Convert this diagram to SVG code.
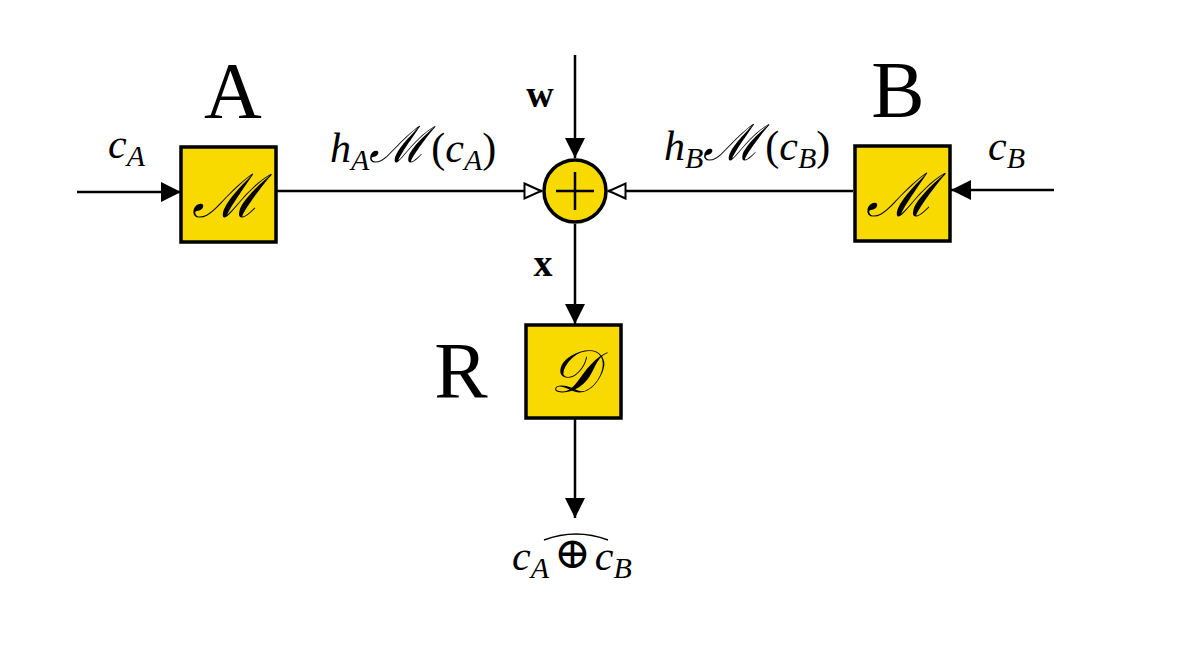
<svg xmlns="http://www.w3.org/2000/svg" width="1200" height="667" viewBox="0 0 1200 667">
<defs>
<style>
.box{fill:#F8DA00;stroke:#000;stroke-width:3.5}
.ln{stroke:#000;stroke-width:2.5;fill:none}
.t{font-family:"Liberation Serif",serif;fill:#000}
.big{font-size:80px}
.it{font-style:italic;font-size:42px}
.sub{font-style:italic;font-size:30px}
.bold{font-weight:bold;font-size:38px}
.scr{font-style:italic;font-size:60px}
.lm{font-size:50px}
.op{font-family:"DejaVu Serif",serif;font-style:normal;font-weight:normal;font-size:44px}
</style>
<marker id="fill" viewBox="0 0 20 20" refX="20" refY="10" markerWidth="20" markerHeight="20" markerUnits="userSpaceOnUse" orient="auto">
<path d="M0,0 L20,10 L0,20 Z" fill="#000"/>
</marker>
<marker id="hollow" viewBox="0 0 20 20" refX="19" refY="10" markerWidth="20" markerHeight="20" markerUnits="userSpaceOnUse" orient="auto">
<path d="M1.5,2.5 L18,10 L1.5,17.5 Z" fill="#fff" stroke="#000" stroke-width="2"/>
</marker>
</defs>
<rect width="1200" height="667" fill="#fff"/>
<g id="connectors">
<line class="ln" x1="77" y1="192" x2="181" y2="192" marker-end="url(#fill)"/>
<line class="ln" x1="277" y1="191" x2="542" y2="191" marker-end="url(#hollow)"/>
<line class="ln" x1="1054" y1="190" x2="951" y2="190" marker-end="url(#fill)"/>
<line class="ln" x1="853" y1="191" x2="608" y2="191" marker-end="url(#hollow)"/>
<line class="ln" x1="575" y1="55" x2="575" y2="158" marker-end="url(#fill)"/>
<line class="ln" x1="575" y1="224" x2="575" y2="324" marker-end="url(#fill)"/>
<line class="ln" x1="575" y1="419" x2="575" y2="518" marker-end="url(#fill)"/>
</g>
<g id="nodeA">
<rect class="box" x="181" y="147" width="95" height="95"/>
<text class="t scr" x="226" y="217" text-anchor="middle">ℳ</text>
<text class="t big" x="233" y="118" text-anchor="middle">A</text>
</g>
<g id="nodeB">
<rect class="box" x="855" y="146" width="95" height="95"/>
<text class="t scr" x="900" y="216" text-anchor="middle">ℳ</text>
<text class="t big" x="898" y="117" text-anchor="middle">B</text>
</g>
<g id="sum">
<circle cx="575" cy="191" r="31" fill="#F8DA00" stroke="#000" stroke-width="3.5"/>
<line class="ln" x1="556" y1="191" x2="594" y2="191"/>
<line class="ln" x1="575" y1="172" x2="575" y2="210"/>
</g>
<g id="nodeR">
<rect class="box" x="526" y="325" width="95" height="93"/>
<text class="t scr" x="573.5" y="392" text-anchor="middle">𝒟</text>
<text class="t big" x="461" y="398" text-anchor="middle">R</text>
</g>
<g id="labels">
<text class="t it" x="108" y="158">c<tspan class="sub" dy="8">A</tspan></text>
<text class="t it" x="988" y="160">c<tspan class="sub" dy="8">B</tspan></text>
<text class="t bold" x="540" y="107" text-anchor="middle">w</text>
<text class="t bold" x="543" y="276" text-anchor="middle">x</text>
<text class="t it" x="330" y="162">h<tspan class="sub" dy="8">A</tspan><tspan class="lm" dy="-8">ℳ</tspan><tspan font-style="normal" dx="4">(</tspan>c<tspan class="sub" dy="8">A</tspan><tspan font-style="normal" dy="-8">)</tspan></text>
<text class="t it" x="664" y="160">h<tspan class="sub" dy="8">B</tspan><tspan class="lm" dy="-8">ℳ</tspan><tspan font-style="normal" dx="4">(</tspan>c<tspan class="sub" dy="8">B</tspan><tspan font-style="normal" dy="-8">)</tspan></text>
<text class="t it" x="512" y="570">c<tspan class="sub" dy="8">A</tspan><tspan class="op" dy="-10" dx="5">⊕</tspan><tspan dy="2" dx="4">c</tspan><tspan class="sub" dy="8">B</tspan></text>
<path d="M544,540 Q576,528 608,540" fill="none" stroke="#000" stroke-width="1.5"/>
</g>
</svg>
